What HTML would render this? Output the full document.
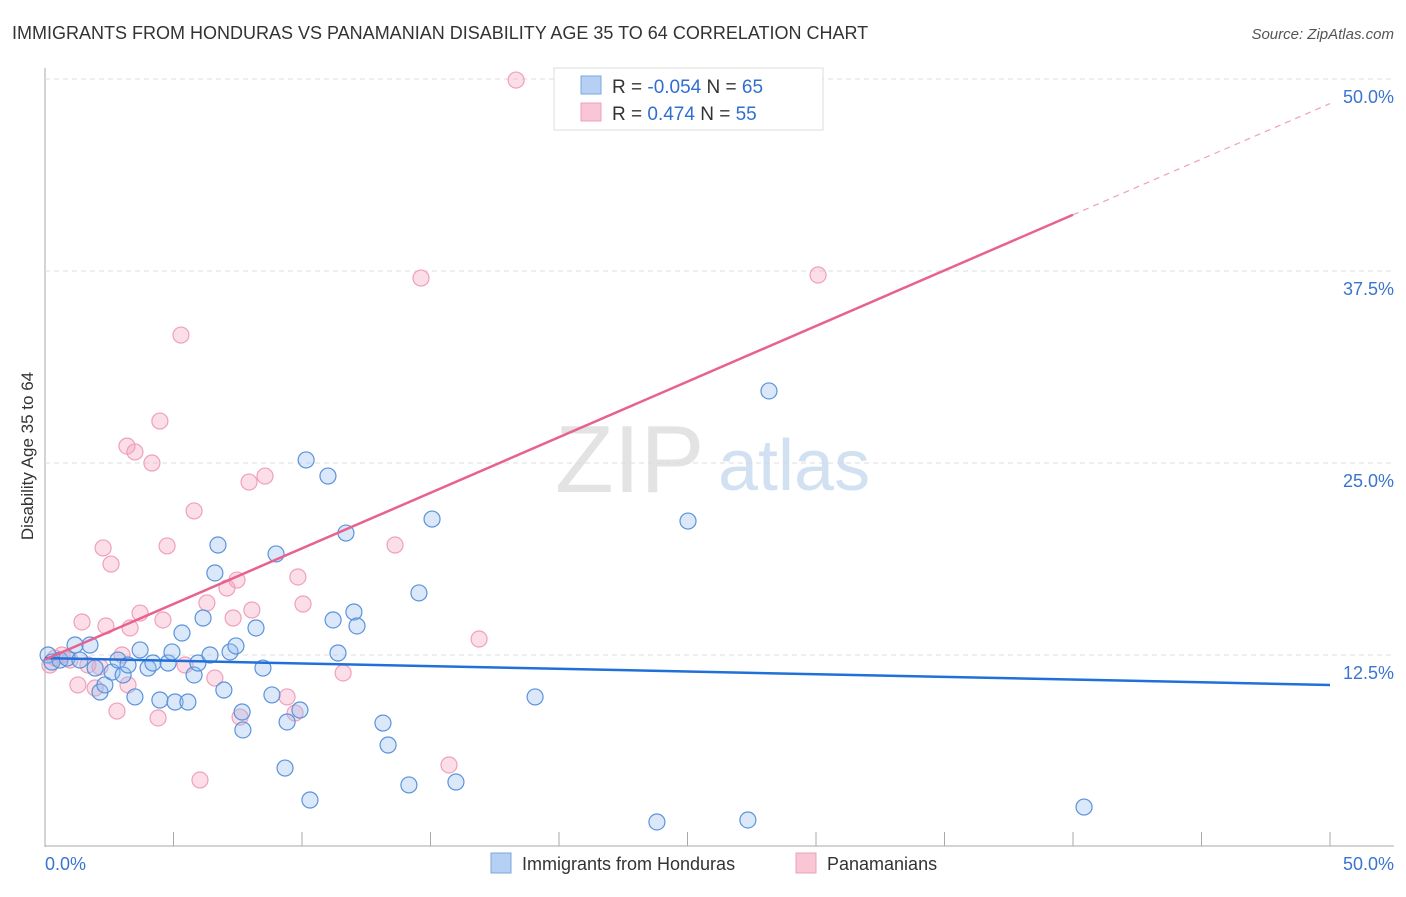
<!DOCTYPE html>
<html><head><meta charset="utf-8"><style>
body{margin:0;background:#fff;font-family:"Liberation Sans",sans-serif;}
svg text{font-family:"Liberation Sans",sans-serif;}
</style></head><body>
<svg id="chart" width="1406" height="892" xmlns="http://www.w3.org/2000/svg">
<text x="12" y="39" font-size="18" fill="#333">IMMIGRANTS FROM HONDURAS VS PANAMANIAN DISABILITY AGE 35 TO 64 CORRELATION CHART</text>
<text x="1394" y="39" font-size="15" fill="#555" text-anchor="end" font-style="italic">Source: ZipAtlas.com</text>
<text transform="translate(33,456) rotate(-90)" font-size="17" fill="#333" text-anchor="middle">Disability Age 35 to 64</text>
<g id="grid"></g>
<text x="555" y="492" font-size="96" fill="#ddd" font-family="Liberation Serif" opacity="0.8">ZIP</text>
<text x="718" y="490" font-size="72" fill="#c8daf0" opacity="0.8">atlas</text>
<g id="points"></g>
<g id="lines"></g>
<g>
<rect x="554" y="68" width="269" height="62" fill="#fff" stroke="#ddd"/>
<rect x="581" y="76" width="20" height="18" fill="#b5d0f3" stroke="#7aa7e0"/>
<rect x="581" y="103" width="20" height="18" fill="#f9c6d5" stroke="#eda0b8"/>
<text x="612" y="93" font-size="19" fill="#333">R = <tspan fill="#2f6fd0">-0.054</tspan>   N = <tspan fill="#2f6fd0">65</tspan></text>
<text x="612" y="120" font-size="19" fill="#333">R =   <tspan fill="#2f6fd0">0.474</tspan>   N = <tspan fill="#2f6fd0">55</tspan></text>
</g>
<g>
<rect x="491" y="853" width="20" height="20" fill="#b5d0f3" stroke="#7aa7e0"/>
<text x="522" y="870" font-size="18" fill="#333">Immigrants from Honduras</text>
<rect x="796" y="853" width="20" height="20" fill="#f9c6d5" stroke="#eda0b8"/>
<text x="827" y="870" font-size="18" fill="#333">Panamanians</text>
</g>
</svg>
<script>
const blueX=[0.12,0.27,0.58,0.86,1.17,1.36,1.75,1.95,2.14,2.33,2.61,2.84,3.04,3.23,3.5,3.7,4.01,4.2,4.47,4.79,4.94,5.06,5.33,5.56,5.8,5.95,6.15,6.42,6.61,6.73,6.96,7.2,7.43,7.67,7.7,8.21,8.48,8.83,8.99,9.34,9.42,9.92,10.16,10.31,11.01,11.21,11.4,11.71,12.02,12.14,13.15,13.35,14.16,14.55,15.06,15.99,19.07,23.81,25.02,27.35,28.17,40.43];
const blueY=[12.5,12.04,12.17,12.3,13.15,12.17,13.15,11.65,10.09,10.55,11.39,12.17,11.2,11.85,9.77,12.83,11.65,11.98,9.57,11.98,12.7,9.44,13.93,9.44,11.2,11.98,14.91,12.5,17.84,19.66,10.22,12.7,13.09,8.79,7.62,14.26,11.65,9.9,19.08,5.14,8.14,8.92,25.2,3.06,24.15,14.78,12.63,20.44,15.3,14.39,8.07,6.64,4.04,16.54,21.35,4.23,9.77,1.63,21.22,1.76,29.69,2.6];
const pinkX=[0.19,0.39,0.66,0.97,1.28,1.44,1.67,1.95,2.14,2.26,2.37,2.57,2.8,3.0,3.23,3.31,3.5,3.19,3.7,4.16,4.4,4.47,4.59,4.75,5.29,5.45,5.8,6.03,6.3,6.61,7.08,7.32,7.47,7.59,7.94,8.05,8.56,9.42,9.73,9.84,10.04,11.6,13.62,14.63,15.72,16.89,18.33,30.08];
const pinkY=[11.85,12.3,12.5,12.17,10.55,14.65,11.85,10.35,11.72,19.47,14.39,18.42,8.85,12.5,10.55,14.26,25.72,26.1,15.23,25.0,8.4,27.73,14.78,19.6,33.33,11.85,21.88,4.36,15.89,11.0,16.86,14.91,17.38,8.46,23.76,15.43,24.15,9.77,8.72,17.58,15.82,11.33,19.66,37.04,5.34,13.54,49.93,37.24];
const blueTrend=[12.3,10.55];
const pinkTrend=[12.2,48.4];
const pinkSolidEnd=40;
const yTicks=[12.5,25,37.5,50];
const NS="http://www.w3.org/2000/svg";
const sx=v=>45+v/50*1285, sy=v=>847-v/12.5*192;
function mk(t,a,p){const e=document.createElementNS(NS,t);for(const k in a)e.setAttribute(k,a[k]);p.appendChild(e);return e;}
const grid=document.getElementById('grid');
const ax=mk('line',{x1:45,y1:68,x2:45,y2:847,stroke:'#aaa'},grid);


const bx=mk('line',{x1:45,y1:846,x2:1394,y2:846,stroke:'#aaa'},grid);


for(let i=1;i<=10;i++){const t=mk('line',{x1:sx(i*5),y1:832,x2:sx(i*5),y2:846,stroke:'#aaa'},grid);

}
yTicks.forEach(v=>{const l=mk('line',{x1:45,y1:sy(v),x2:1394,y2:sy(v),stroke:'#ddd','stroke-dasharray':'5,4'},grid);


const t=mk('text',{x:1394,y:sy(v)+24,'font-size':18,fill:'#3a74d0','text-anchor':'end'},grid);t.textContent=v.toFixed(1)+'%';

});
const x0=mk('text',{x:45,y:870,'font-size':18,fill:'#3a74d0'},grid);x0.textContent='0.0%';


const x1=mk('text',{x:1394,y:870,'font-size':18,fill:'#3a74d0','text-anchor':'end'},grid);x1.textContent='50.0%';


const pts=document.getElementById('points');
pinkX.forEach((x,i)=>{const c=mk('circle',{cx:sx(x),cy:sy(pinkY[i]),r:8,fill:'rgba(244,160,186,0.35)',stroke:'#f0a0ba','stroke-width':1.2},pts);

});
blueX.forEach((x,i)=>{const c=mk('circle',{cx:sx(x),cy:sy(blueY[i]),r:8,fill:'rgba(150,190,240,0.35)',stroke:'#5a93dc','stroke-width':1.2},pts);

});
const ln=document.getElementById('lines');
const bl=mk('line',{x1:sx(0),y1:sy(blueTrend[0]),x2:sx(50),y2:sy(blueTrend[1]),stroke:'#2170d8','stroke-width':2.5},ln);


const pe=pinkTrend[0]+(pinkTrend[1]-pinkTrend[0])*pinkSolidEnd/50;
const pl=mk('line',{x1:sx(0),y1:sy(pinkTrend[0]),x2:sx(pinkSolidEnd),y2:sy(pe),stroke:'#e8628f','stroke-width':2.5},ln);


const pd=mk('line',{x1:sx(pinkSolidEnd),y1:sy(pe),x2:sx(50),y2:sy(pinkTrend[1]),stroke:'#f0a0ba','stroke-width':1.2,'stroke-dasharray':'6,5'},ln);


</script>
</body></html>
